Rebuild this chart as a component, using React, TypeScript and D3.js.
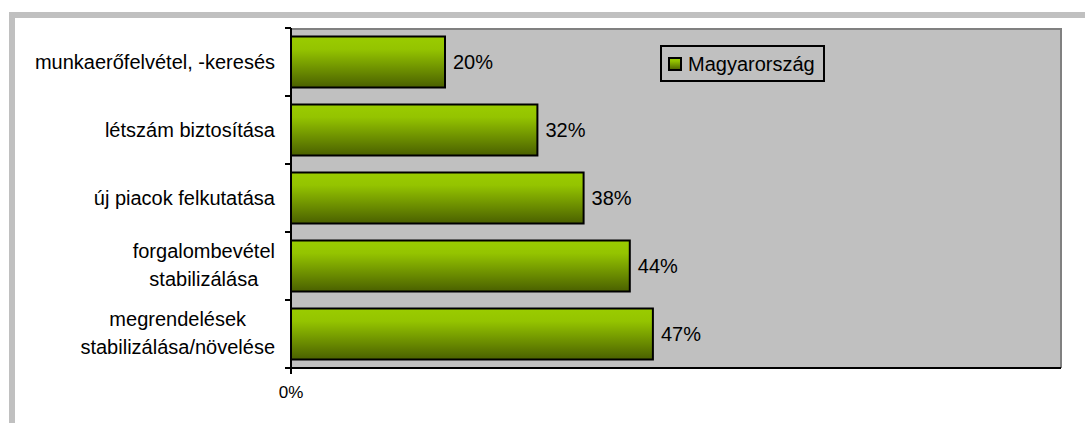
import React, { useEffect, useRef } from "react";
import * as d3 from "d3";

const categories: string[][] = [
  ["munkaerőfelvétel, -keresés"],
  ["létszám biztosítása"],
  ["új piacok felkutatása"],
  ["forgalombevétel", "stabilizálása"],
  ["megrendelések", "stabilizálása/növelése"],
];
const values: number[] = [0.2, 0.32, 0.38, 0.44, 0.47];
const seriesName = "Magyarország";
const xTicks: number[] = [0];

const W = 1085;
const H = 423;
const plot = { left: 291, top: 28, right: 1061, bottom: 368 };
const FONT = "'Liberation Sans', Arial, sans-serif";

export default function App() {
  const ref = useRef<SVGSVGElement | null>(null);

  useEffect(() => {
    const svg = d3.select(ref.current);
    svg.selectAll("*").remove();

    const defs = svg.append("defs");
    const grad = defs
      .append("linearGradient")
      .attr("id", "barGrad")
      .attr("x1", 0)
      .attr("y1", 0)
      .attr("x2", 0)
      .attr("y2", 1);
    grad.append("stop").attr("offset", "0%").attr("stop-color", "#9acc00");
    grad.append("stop").attr("offset", "25%").attr("stop-color", "#94c400");
    grad.append("stop").attr("offset", "100%").attr("stop-color", "#4a6000");

    // outer frame
    svg
      .append("rect")
      .attr("x", 12)
      .attr("y", 15)
      .attr("width", W + 20)
      .attr("height", H + 20)
      .attr("fill", "white")
      .attr("stroke", "#c0c0c0")
      .attr("stroke-width", 6);

    const x = d3.scaleLinear().domain([0, 1]).range([plot.left, plot.right]);
    const y = d3
      .scaleBand<number>()
      .domain(categories.map((_, i) => i))
      .range([plot.top, plot.bottom])
      .paddingInner(0.25)
      .paddingOuter(0.125);

    // plot area
    svg
      .append("rect")
      .attr("x", plot.left)
      .attr("y", plot.top)
      .attr("width", plot.right - plot.left)
      .attr("height", plot.bottom - plot.top)
      .attr("fill", "#c0c0c0");
    svg
      .append("path")
      .attr("d", `M${plot.left},${plot.top + 1}H${plot.right}V${plot.bottom}`)
      .attr("fill", "none")
      .attr("stroke", "#808080")
      .attr("stroke-width", 2);

    // bars
    svg
      .append("g")
      .selectAll("rect")
      .data(values)
      .join("rect")
      .attr("x", x(0))
      .attr("y", (_, i) => y(i)!)
      .attr("width", (d) => x(d) - x(0))
      .attr("height", y.bandwidth())
      .attr("fill", "url(#barGrad)")
      .attr("stroke", "black")
      .attr("stroke-width", 2);

    // value labels
    svg
      .append("g")
      .selectAll("text")
      .data(values)
      .join("text")
      .attr("x", (d) => x(d) + 8)
      .attr("y", (_, i) => y(i)! + y.bandwidth() / 2)
      .attr("dy", "0.35em")
      .attr("font-family", FONT)
      .attr("font-size", 20)
      .attr("fill", "black")
      .text((d) => d3.format(".0%")(d));

    // axes lines
    const step = y.step();
    const boundaries = d3.range(categories.length + 1).map((i) => plot.top + i * step);
    svg
      .append("line")
      .attr("x1", plot.left)
      .attr("x2", plot.left)
      .attr("y1", plot.top)
      .attr("y2", plot.bottom)
      .attr("stroke", "black")
      .attr("stroke-width", 2);
    svg
      .append("line")
      .attr("x1", plot.left)
      .attr("x2", plot.right)
      .attr("y1", plot.bottom)
      .attr("y2", plot.bottom)
      .attr("stroke", "black")
      .attr("stroke-width", 2);
    svg
      .append("g")
      .selectAll("line")
      .data(boundaries)
      .join("line")
      .attr("x1", plot.left - 6)
      .attr("x2", plot.left)
      .attr("y1", (d) => d)
      .attr("y2", (d) => d)
      .attr("stroke", "black")
      .attr("stroke-width", 2);

    // x ticks
    const xt = svg.append("g");
    xt.selectAll("line")
      .data(xTicks)
      .join("line")
      .attr("x1", (d) => x(d))
      .attr("x2", (d) => x(d))
      .attr("y1", plot.bottom)
      .attr("y2", plot.bottom + 6)
      .attr("stroke", "black")
      .attr("stroke-width", 2);
    xt.selectAll("text")
      .data(xTicks)
      .join("text")
      .attr("x", (d) => x(d))
      .attr("y", 398)
      .attr("text-anchor", "middle")
      .attr("font-family", FONT)
      .attr("font-size", 17)
      .text((d) => d3.format(".0%")(d));

    // category labels
    const labelRight = 275;
    const lineH = 28;
    const cg = svg.append("g");
    categories.forEach((lines, i) => {
      const cy = y(i)! + y.bandwidth() / 2 - (lines.length > 1 ? 1 : 0);
      const t = cg
        .append("text")
        .attr("font-family", FONT)
        .attr("font-size", 20)
        .attr("fill", "black");
      const tspans = lines.map((ln, j) =>
        t
          .append("tspan")
          .attr("y", cy + (j - (lines.length - 1) / 2) * lineH)
          .attr("dy", "0.35em")
          .text(ln)
      );
      const widths = tspans.map((s) => (s.node() as SVGTSpanElement).getComputedTextLength());
      const maxW = d3.max(widths) || 0;
      tspans.forEach((s) => s.attr("x", labelRight - maxW / 2).attr("text-anchor", "middle"));
    });

    // legend
    const lg = svg.append("g");
    lg.append("rect")
      .attr("x", 661)
      .attr("y", 46)
      .attr("width", 163)
      .attr("height", 35)
      .attr("fill", "#c0c0c0")
      .attr("stroke", "black")
      .attr("stroke-width", 2);
    lg.append("rect")
      .attr("x", 669)
      .attr("y", 58)
      .attr("width", 12)
      .attr("height", 12)
      .attr("fill", "url(#barGrad)")
      .attr("stroke", "black")
      .attr("stroke-width", 2);
    lg.append("text")
      .attr("x", 688)
      .attr("y", 64)
      .attr("dy", "0.35em")
      .attr("font-family", FONT)
      .attr("font-size", 20)
      .text(seriesName);
  }, []);

  return (
    <svg
      ref={ref}
      width={W}
      height={H}
      style={{ position: "absolute", left: 0, top: 0, display: "block" }}
    />
  );
}
